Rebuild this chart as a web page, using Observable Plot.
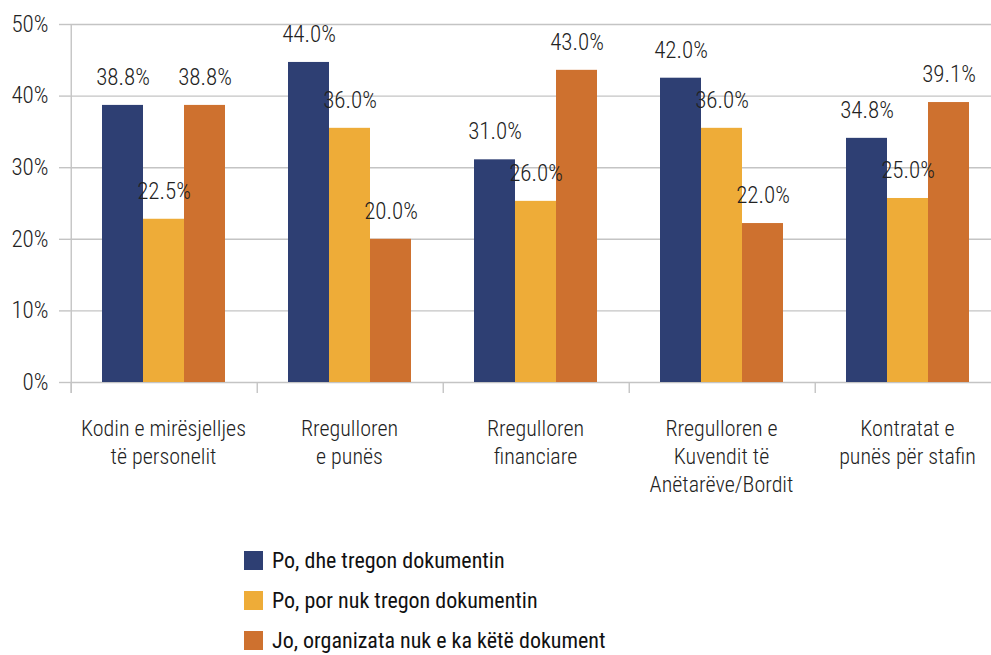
<!DOCTYPE html>
<html>
<head>
<meta charset="utf-8">
<script src="https://cdn.jsdelivr.net/npm/d3@7"></script>
<script src="https://cdn.jsdelivr.net/npm/@observablehq/plot@0.6"></script>
<style>
  html, body { margin: 0; padding: 0; background: #fff; }
  body { width: 991px; height: 655px; overflow: hidden; font-family: "Roboto Condensed", "Liberation Sans Narrow", "DejaVu Sans Condensed", Roboto, sans-serif; font-stretch: condensed; }
  #chart svg { display: block; }
  #legend { margin-left: 244px; margin-top: 20px; }
  .row { display: flex; align-items: center; height: 40px; }
  .sw { width: 19px; height: 19px; margin-right: 9px; }
  .lb { font-size: 22px; font-weight: 400; color: #111; }
</style>
</head>
<body>
<div id="chart"></div>
<div id="legend"></div>
<script>
const categories = [
  "Kodin e mirësjelljes\ntë personelit",
  "Rregulloren\ne punës",
  "Rregulloren\nfinanciare",
  "Rregulloren e\nKuvendit të\nAnëtarëve/Bordit",
  "Kontratat e\npunës për stafin"
];
const series = [
  "Po, dhe tregon dokumentin",
  "Po, por nuk tregon dokumentin",
  "Jo, organizata nuk e ka këtë dokument"
];
const colors = ["#2E3F73", "#EEAC38", "#CE712F"];
// bar heights as drawn (%)
const valuesPoDhe = [38.7, 44.7, 31.1, 42.5, 34.1];
const valuesPoPor = [22.8, 35.5, 25.3, 35.5, 25.7];
const valuesJo    = [38.7, 20.0, 43.6, 22.2, 39.1];
// data labels as printed
const labelsPoDhe = ["38.8%", "44.0%", "31.0%", "42.0%", "34.8%"];
const labelsPoPor = ["22.5%", "36.0%", "26.0%", "36.0%", "25.0%"];
const labelsJo    = ["38.8%", "20.0%", "43.0%", "22.0%", "39.1%"];
const yTicks = [0, 10, 20, 30, 40, 50];

const valueSets = [valuesPoDhe, valuesPoPor, valuesJo];
const labelSets = [labelsPoDhe, labelsPoPor, labelsJo];
const rows = [];
categories.forEach((c, i) => series.forEach((s, j) => rows.push({cat: c, series: s, value: valueSets[j][i], label: labelSets[j][i]})));

const font = '"Roboto Condensed", "Liberation Sans Narrow", "DejaVu Sans Condensed", Roboto, sans-serif';
const grid = "#C4C4C4";

const chart = Plot.plot({
  width: 991,
  height: 520,
  marginTop: 24,
  marginBottom: 138,
  marginLeft: 69,
  marginRight: -9,
  style: {fontFamily: font, fontWeight: 300, color: "#333", overflow: "visible"},
  fx: {domain: categories, padding: 0, label: null},
  x: {domain: series, paddingInner: 0, paddingOuter: 0.75, axis: null},
  y: {domain: [0, 50], label: null},
  color: {domain: series, range: colors},
  marks: [
    Plot.ruleY(yTicks, {y: d => d, stroke: grid, strokeWidth: 1.4}),
    Plot.barY(rows, {fx: "cat", x: "series", y: "value", fill: "series"}),
    Plot.text(rows, {fx: "cat", x: "series", y: "value", text: "label", dy: -28, fontSize: 23, fill: "#222", fontWeight: 300}),
    Plot.ruleX([series[0]], {x: d => d, dx: -51.75, y1: 0, y2: -1.55, stroke: grid, strokeWidth: 1.4}),
    Plot.ruleX([{fx: categories[0], s: series[0]}], {fx: "fx", x: "s", dx: -51.75, y1: 50, y2: -1.55, stroke: grid, strokeWidth: 1.4}),
    Plot.axisY(yTicks, {tickSize: 11, tickPadding: 11, stroke: grid, strokeWidth: 1.4, tickFormat: d => d + "%", fontSize: 23, fill: "#222", label: null}),
    Plot.axisFx({anchor: "bottom", tickSize: 0, tickPadding: 34, fontSize: 22, lineHeight: 1.27, fill: "#222", label: null})
  ]
});
document.getElementById("chart").appendChild(chart);

const legend = document.getElementById("legend");
series.forEach((s, j) => {
  const r = document.createElement("div");
  r.className = "row";
  r.innerHTML = `<div class="sw" style="background:${colors[j]}"></div><div class="lb">${s}</div>`;
  legend.appendChild(r);
});
</script>
</body>
</html>
